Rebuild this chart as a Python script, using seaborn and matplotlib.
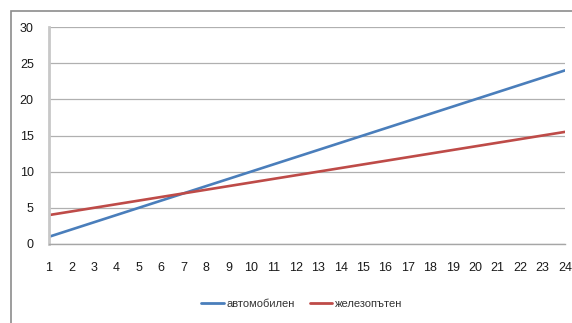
import matplotlib
matplotlib.use("Agg")
import matplotlib.pyplot as plt
import seaborn as sns
import pandas as pd
from matplotlib.patches import Rectangle
from matplotlib.lines import Line2D

hours = list(range(1, 25))
avtomobilen = [1, 2, 3, 4, 5, 6, 7, 8, 9, 10, 11, 12,
               13, 14, 15, 16, 17, 18, 19, 20, 21, 22, 23, 24]
zhelezopaten = [4.0, 4.5, 5.0, 5.5, 6.0, 6.5, 7.0, 7.5, 8.0, 8.5, 9.0, 9.5,
                10.0, 10.5, 11.0, 11.5, 12.0, 12.5, 13.0, 13.5, 14.0, 14.5, 15.0, 15.5]
series_names = ["автомобилен", "железопътен"]
y_ticks = [0, 5, 10, 15, 20, 25, 30]
colors = ["#4a7ebb", "#be4b48"]

df = pd.DataFrame({
    "x": hours * 2,
    "y": avtomobilen + zhelezopaten,
    "series": [series_names[0]] * len(hours) + [series_names[1]] * len(hours),
})

sns.set_theme(style="white")
plt.rcParams["font.family"] = ["Liberation Sans", "DejaVu Sans"]

fig = plt.figure(figsize=(5.72, 3.23), dpi=100)
fig.patch.set_facecolor("white")
fig.patches.append(Rectangle((10.5 / 572, -0.05), 1.0, 1 - 10.5 / 323 + 0.05,
                             transform=fig.transFigure, fill=False,
                             edgecolor="#8c8c8c", linewidth=1.2))

ax = fig.add_axes([49 / 572, 1 - 244 / 323, (565 - 49) / 572, (244 - 27) / 323])
sns.lineplot(data=df, x="x", y="y", hue="series",
             palette=colors, linewidth=1.9, ax=ax, legend=False)

ax.set_xlim(1, 24)
ax.set_ylim(0, 30)
ax.set_xticks(hours)
ax.set_yticks(y_ticks)
ax.set_xlabel("")
ax.set_ylabel("")
ax.yaxis.grid(True, color="#b0b0b0", linewidth=0.9)
ax.set_axisbelow(True)
for side in ["top", "right"]:
    ax.spines[side].set_visible(False)
ax.spines["left"].set_color("#c8c8c8")
ax.spines["left"].set_linewidth(2.0)
ax.spines["bottom"].set_color("#a6a6a6")
ax.spines["bottom"].set_linewidth(1.0)
ax.tick_params(axis="x", direction="out", length=4, width=1, color="#c0c0c0",
               labelsize=9, pad=9, labelcolor="#1a1a1a")
ax.tick_params(axis="y", length=0, labelsize=9, pad=11, labelcolor="#1a1a1a")

handles = [Line2D([], [], color=c, linewidth=2.0) for c in colors]
fig.legend(handles, series_names, loc="center", bbox_to_anchor=(302 / 572, 1 - 304 / 323),
           ncol=2, frameon=False, fontsize=8, handlelength=2.0, handletextpad=0.3,
           columnspacing=1.3, labelcolor="#333333")

fig.savefig("out.png", dpi=100)
